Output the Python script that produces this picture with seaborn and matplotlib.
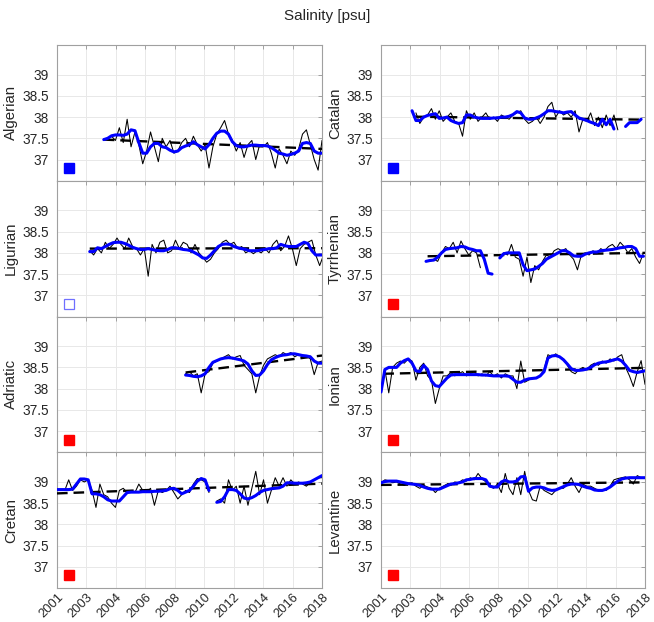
import numpy as np
import pandas as pd
import matplotlib
matplotlib.use("Agg")
import matplotlib.pyplot as plt
import seaborn as sns

STEP = 0.25  # years between consecutive values
XTICK_LABELS = ['2001', '2003', '2004', '2006', '2008', '2010', '2012', '2014', '2016', '2018']
YTICKS = [37, 37.5, 38, 38.5, 39]
nan = np.nan

# ---------------- Algerian ----------------
alg_thin_start = 2004.0
alg_thin = [37.48, 37.50, 37.55, 37.45, 37.75, 37.40, 37.95, 37.30, 37.65, 37.35,
            36.90, 37.20, 37.65, 37.30, 36.95, 37.50, 37.30, 37.45, 37.15, 37.20,
            37.40, 37.50, 37.30, 37.55, 37.35, 37.20, 37.35, 36.80, 37.30, 37.60,
            37.75, 37.92, 37.60, 37.45, 37.20, 37.40, 37.05, 37.35, 37.45, 37.00,
            37.35, 37.30, 37.40, 37.15, 36.80, 37.25, 37.10, 36.90, 37.20, 37.10,
            37.25, 37.60, 37.70, 37.35, 37.00, 36.75, 37.45]
alg_smooth_start = 2004.0
alg_smooth = [37.47, 37.50, 37.56, 37.58, 37.58, 37.57, 37.60, 37.70, 37.68, 37.40,
              37.15, 37.15, 37.30, 37.38, 37.38, 37.30, 37.28, 37.22, 37.18, 37.20,
              37.28, 37.32, 37.35, 37.42, 37.35, 37.30, 37.25, 37.35, 37.50, 37.62,
              37.67, 37.67, 37.60, 37.42, 37.33, 37.30, 37.30, 37.32, 37.34, 37.34,
              37.33, 37.33, 37.32, 37.28, 37.22, 37.15, 37.13, 37.10, 37.12, 37.15,
              37.20, 37.38, 37.40, 37.38, 37.20, 37.15, 37.15]
alg_trend_years = [2004.0, 2018.0]
alg_trend_vals = [37.47, 37.25]

# ---------------- Catalan ----------------
cat_thin_start = 2003.25
cat_thin = [38.10, 37.85, 38.00, 38.05, 38.20, 37.95, 38.15, 37.90, 38.00, 38.10,
            37.90, 37.85, 37.55, 38.15, 37.95, 38.10, 37.90, 38.00, 38.10, 37.95,
            38.00, 37.90, 38.05, 38.00, 37.95, 38.05, 38.10, 38.15, 37.95, 37.85,
            37.90, 38.00, 37.85, 38.00, 38.25, 38.35, 38.00, 38.15, 38.05, 38.10,
            38.00, 38.15, 37.65, 37.95, 37.90, 38.10, 37.80, 38.00, 37.75, 38.05,
            37.80, 38.05, 37.70]
cat_smooth_start = 2003.0
cat_smooth = [38.15, 37.92, 37.92, 38.00, 38.04, 38.06, 38.08, 37.97, 37.98, 38.00,
              37.92, 37.88, 37.85, 37.87, 38.05, 38.05, 38.00, 37.98, 37.97, 37.97,
              37.97, 37.98, 37.98, 38.00, 38.00, 38.02, 38.06, 38.13, 38.10, 37.98,
              37.95, 37.95, 37.98, 38.02, 38.08, 38.15, 38.15, 38.13, 38.12, 38.10,
              38.12, 38.13, 38.05, 37.98, 37.95, 37.92, 37.88, 37.85, 37.80, 37.95,
              37.82, 37.95, 37.72, nan, nan, 37.78, 37.87, 37.87, 37.87, 37.95]
cat_trend_years = [2003.1, 2017.85]
cat_trend_vals = [38.01, 37.94]

# ---------------- Ligurian ----------------
lig_thin_start = 2003.1
lig_thin = [38.05, 37.95, 38.10, 38.00, 38.25, 38.10, 38.20, 38.35, 38.20, 38.10,
            38.35, 38.15, 38.10, 37.95, 38.10, 37.45, 38.20, 38.00, 38.25, 38.30,
            38.00, 38.05, 38.30, 38.10, 38.25, 38.20, 38.00, 38.20, 38.00, 37.90,
            37.78, 37.85, 38.00, 38.10, 38.25, 38.30, 38.20, 38.25, 38.10, 38.15,
            38.00, 38.05, 37.98, 38.05, 38.00, 38.10, 38.00, 38.20, 38.30, 38.05,
            38.15, 38.40, 38.10, 37.70, 38.10, 38.20, 38.25, 38.30, 37.95, 37.70,
            37.95]
lig_smooth_start = 2003.1
lig_smooth = [38.03, 38.03, 38.12, 38.10, 38.15, 38.20, 38.24, 38.25, 38.25, 38.22,
              38.18, 38.13, 38.10, 38.08, 38.08, 38.10, 38.08, 38.06, 38.05, 38.05,
              38.08, 38.12, 38.12, 38.10, 38.08, 38.07, 38.05, 38.00, 37.95, 37.88,
              37.87, 37.95, 38.05, 38.15, 38.20, 38.21, 38.20, 38.15, 38.12, 38.10,
              38.08, 38.05, 38.05, 38.05, 38.07, 38.08, 38.10, 38.10, 38.12, 38.20,
              38.17, 38.15, 38.15, 38.15, 38.20, 38.25, 38.22, 38.05, 37.95, 37.95,
              37.95]
lig_trend_years = [2003.1, 2018.0]
lig_trend_vals = [38.10, 38.11]

# ---------------- Tyrrhenian ----------------
tyr_thin_start = 2004.15
tyr_thin = [37.80, 37.85, 37.80, 38.00, 38.15, 38.10, 38.25, 38.00, 38.28, 38.10,
            37.95, 38.05, 38.00, 37.65, nan, nan, nan, nan, 37.90, 38.00,
            37.95, 38.20, 37.90, 37.85, 37.45, 37.90, 37.30, 37.70, 37.60, 37.80,
            37.95, 37.90, 38.05, 38.10, 38.05, 38.10, 37.95, 37.85, 37.60, 37.95,
            38.00, 37.95, 38.05, 37.98, 38.10, 38.05, 38.15, 38.20, 38.10, 38.25,
            38.15, 38.00, 38.10, 37.90, 37.75, 38.00]
tyr_smooth_start = 2003.9
tyr_smooth = [37.80, 37.82, 37.83, 37.90, 38.00, 38.08, 38.10, 38.11, 38.12, 38.15,
              38.14, 38.10, 38.08, 38.05, 38.05, 37.85, 37.52, 37.50, nan, 37.88,
              37.98, 38.00, 38.00, 38.00, 38.00, 37.72, 37.58, 37.60, 37.62, 37.68,
              37.75, 37.85, 37.90, 37.95, 38.00, 38.05, 38.05, 38.00, 37.93, 37.92,
              37.92, 37.97, 38.00, 38.02, 38.02, 38.05, 38.06, 38.07, 38.08, 38.10,
              38.12, 38.13, 38.15, 38.15, 38.10, 37.92, 37.92]
tyr_trend_years = [2004.0, 2018.0]
tyr_trend_vals = [37.92, 38.00]

# ---------------- Adriatic ----------------
adr_thin_start = 2009.25
adr_thin = [38.35, 38.40, 38.30, 38.35, 37.90, 38.35, 38.40, 38.60, 38.65, 38.70,
            38.75, 38.80, 38.70, 38.75, 38.78, 38.55, 38.45, 38.35, 37.90, 38.30,
            38.55, 38.70, 38.75, 38.80, 38.75, 38.85, 38.80, 38.85, 38.75, 38.80,
            38.75, 38.78, 38.70, 38.33, 38.62, 38.65]
adr_smooth_start = 2009.25
adr_smooth = [38.32, 38.31, 38.29, 38.28, 38.30, 38.35, 38.50, 38.62, 38.66, 38.70,
              38.72, 38.73, 38.72, 38.70, 38.68, 38.65, 38.58, 38.42, 38.31, 38.32,
              38.42, 38.57, 38.68, 38.73, 38.77, 38.79, 38.80, 38.82, 38.82, 38.80,
              38.78, 38.77, 38.75, 38.65, 38.60, 38.60]
adr_trend_years = [2009.25, 2018.0]
adr_trend_vals = [38.38, 38.78]

# ---------------- Ionian ----------------
ion_thin_start = 2001.25
ion_thin = [38.45, 37.90, 38.50, 38.60, 38.65, 38.60, 38.70, 38.65, 38.20, 38.50,
            38.60, 38.30, 38.20, 37.65, 38.00, 38.30, 38.30, 38.38, 38.30, 38.35,
            38.40, 38.30, 38.35, 38.40, 38.30, 38.35, 38.30, 38.40, 38.30, 38.35,
            38.25, 38.35, 38.30, 38.30, 38.00, 38.65, 38.15, 38.20, 38.25, 38.25,
            38.30, 38.45, 38.80, 38.75, 38.82, 38.75, 38.70, 38.55, 38.40, 38.35,
            38.45, 38.50, 38.45, 38.55, 38.60, 38.55, 38.65, 38.60, 38.70, 38.65,
            38.75, 38.80, 38.50, 38.30, 38.05, 38.40, 38.66, 38.10]
ion_smooth_start = 2001.0
ion_smooth = [37.92, 38.45, 38.50, 38.50, 38.50, 38.60, 38.66, 38.70, 38.60, 38.42,
              38.40, 38.55, 38.45, 38.18, 38.07, 38.05, 38.15, 38.25, 38.32, 38.33,
              38.33, 38.33, 38.33, 38.33, 38.33, 38.33, 38.32, 38.32, 38.31, 38.30,
              38.30, 38.30, 38.30, 38.29, 38.22, 38.15, 38.15, 38.20, 38.23, 38.24,
              38.25, 38.30, 38.40, 38.72, 38.77, 38.78, 38.75, 38.68, 38.58, 38.47,
              38.43, 38.43, 38.44, 38.46, 38.50, 38.56, 38.60, 38.62, 38.63, 38.65,
              38.68, 38.70, 38.65, 38.55, 38.43, 38.40, 38.38, 38.40, 38.42]
ion_trend_years = [2001.15, 2018.0]
ion_trend_vals = [38.35, 38.49]

# ---------------- Cretan ----------------
cre_thin_start = 2001.0
cre_thin = [38.82, 38.82, 38.80, 39.05, 38.80, 38.90, 39.05, 39.00, 39.05, 38.80,
            38.40, 38.95, 38.70, 38.65, 38.50, 38.40, 38.80, 38.85, 38.75, 38.80,
            38.75, 38.95, 38.80, 38.75, 38.85, 38.45, 38.80, 38.75, 38.80, 38.90,
            38.75, 38.60, 38.70, 38.80, 38.75, 38.95, 39.08, 39.05, 39.00, 38.75,
            nan, 38.55, 38.60, 38.50, 39.05, 38.80, 38.90, 38.50, 38.90, 38.45,
            38.85, 39.25, 38.70, 39.05, 38.50, 38.80, 39.10, 38.90, 39.10, 38.90,
            39.05, 38.95, 39.00, 38.95, 38.90, 39.00, 39.05, 39.10, 39.10]
cre_smooth_start = 2001.0
cre_smooth = [38.82, 38.82, 38.82, 38.82, 38.83, 38.95, 39.07, 39.07, 39.05, 38.72,
              38.72, 38.70, 38.65, 38.58, 38.55, 38.55, 38.55, 38.65, 38.75, 38.76,
              38.76, 38.76, 38.77, 38.77, 38.77, 38.78, 38.78, 38.79, 38.80, 38.84,
              38.85, 38.80, 38.72, 38.76, 38.80, 38.90, 39.02, 39.08, 39.05, 38.80,
              nan, 38.52, 38.54, 38.65, 38.82, 38.82, 38.80, 38.72, 38.62, 38.60,
              38.63, 38.68, 38.75, 38.80, 38.82, 38.84, 38.85, 38.86, 38.90, 38.98,
              38.98, 38.97, 38.97, 38.97, 38.98, 39.00, 39.05, 39.10, 39.15]
cre_trend_years = [2001.0, 2018.0]
cre_trend_vals = [38.73, 38.96]

# ---------------- Levantine ----------------
lev_thin_start = 2001.0
lev_thin = [38.98, 39.05, 39.03, 38.98, 39.00, 38.95, 38.92, 38.97, 38.98, 38.90,
            38.85, 38.92, 38.88, 38.85, 38.75, 38.85, 38.90, 38.95, 38.92, 39.00,
            38.98, 39.05, 39.02, 39.10, 39.05, 39.20, 39.08, 39.00, 38.90, 38.85,
            38.95, 38.75, 39.20, 38.85, 38.70, 39.10, 38.70, 39.25, 38.80, 38.58,
            38.55, 38.90, 38.80, 38.75, 38.70, 38.80, 38.85, 38.85, 38.95, 39.10,
            38.90, 38.75, 38.95, 38.90, 38.90, 38.85, 38.80, 38.82, 38.80, 38.90,
            39.05, 39.08, 39.10, 39.12, 39.05, 38.95, 39.15, 39.10, 39.10]
lev_smooth_start = 2001.0
lev_smooth = [38.98, 39.01, 39.02, 39.02, 39.02, 39.00, 38.98, 38.96, 38.95, 38.94,
              38.92, 38.88, 38.85, 38.83, 38.83, 38.83, 38.87, 38.91, 38.95, 38.96,
              38.98, 39.00, 39.05, 39.06, 39.08, 39.08, 39.08, 39.05, 38.90, 38.88,
              38.88, 39.00, 39.04, 39.00, 39.00, 39.02, 39.12, 39.13, 38.78, 38.86,
              38.88, 38.88, 38.86, 38.82, 38.80, 38.81, 38.85, 38.89, 38.93, 38.95,
              38.95, 38.94, 38.90, 38.87, 38.85, 38.81, 38.80, 38.80, 38.83, 38.88,
              38.95, 39.02, 39.07, 39.09, 39.10, 39.10, 39.10, 39.10, 39.10]
lev_trend_years = [2001.0, 2018.0]
lev_trend_vals = [38.93, 38.99]

# panel layout: (name, column, row, thin, smooth, trend, flag marker style)
panels = [
    ("Algerian", 0, 0, (alg_thin_start, alg_thin), (alg_smooth_start, alg_smooth), (alg_trend_years, alg_trend_vals), "blue"),
    ("Ligurian", 0, 1, (lig_thin_start, lig_thin), (lig_smooth_start, lig_smooth), (lig_trend_years, lig_trend_vals), "open"),
    ("Adriatic", 0, 2, (adr_thin_start, adr_thin), (adr_smooth_start, adr_smooth), (adr_trend_years, adr_trend_vals), "red"),
    ("Cretan", 0, 3, (cre_thin_start, cre_thin), (cre_smooth_start, cre_smooth), (cre_trend_years, cre_trend_vals), "red"),
    ("Catalan", 1, 0, (cat_thin_start, cat_thin), (cat_smooth_start, cat_smooth), (cat_trend_years, cat_trend_vals), "blue"),
    ("Tyrrhenian", 1, 1, (tyr_thin_start, tyr_thin), (tyr_smooth_start, tyr_smooth), (tyr_trend_years, tyr_trend_vals), "red"),
    ("Ionian", 1, 2, (ion_thin_start, ion_thin), (ion_smooth_start, ion_smooth), (ion_trend_years, ion_trend_vals), "red"),
    ("Levantine", 1, 3, (lev_thin_start, lev_thin), (lev_smooth_start, lev_smooth), (lev_trend_years, lev_trend_vals), "red"),
]


def series_frame(start, values):
    vals = np.asarray(values, dtype=float)
    years = start + STEP * np.arange(len(vals))
    seg = np.cumsum(np.isnan(vals))
    return pd.DataFrame({"year": years, "val": vals, "seg": seg}).dropna()


sns.set_theme(style="white")
plt.rcParams["font.family"] = ["Liberation Sans", "DejaVu Sans"]

W, H = 654, 622
fig = plt.figure(figsize=(W / 100, H / 100), dpi=100)
fig.patch.set_facecolor("white")

col_left = [57, 381]
col_width = [265, 264]
top_px = 45
row_h = 135.75

EDGE = "#a0a0a0"
GRID = "#e8e8e8"
TXT = "#262626"

for name, col, row, thin, smooth, trend, flag in panels:
    left = col_left[col] / W
    bottom = 1 - (top_px + (row + 1) * row_h) / H
    ax = fig.add_axes([left, bottom, col_width[col] / W, row_h / H])

    dthin = series_frame(*thin)
    dsm = series_frame(*smooth)
    dtr = pd.DataFrame({"year": trend[0], "val": trend[1]})

    sns.lineplot(data=dthin, x="year", y="val", units="seg", estimator=None, sort=False,
                 color="black", linewidth=0.75, legend=False, ax=ax, zorder=3)
    sns.lineplot(data=dtr, x="year", y="val", estimator=None, sort=False,
                 color="black", linewidth=1.7, linestyle=(0, (4.5, 2.5)), legend=False, ax=ax, zorder=4)
    sns.lineplot(data=dsm, x="year", y="val", units="seg", estimator=None, sort=False,
                 color="#0000ff", linewidth=2.2, legend=False, ax=ax, zorder=5)

    if flag == "blue":
        ax.plot([2001.8], [36.8], marker="s", markersize=7.5, color="#0000ff", linestyle="none", zorder=6)
    elif flag == "red":
        ax.plot([2001.8], [36.8], marker="s", markersize=7.5, color="#ff0000", linestyle="none", zorder=6)
    else:
        ax.plot([2001.8], [36.8], marker="s", markersize=7.5, markerfacecolor="none",
                markeredgecolor="#6f6fff", markeredgewidth=0.9, linestyle="none", zorder=6)

    ax.set_xlim(2001, 2018)
    ax.set_ylim(36.5, 39.7)
    ax.set_xticks(np.linspace(2001, 2018, len(XTICK_LABELS)))
    ax.set_yticks(YTICKS)
    ax.set_yticklabels([f"{v:g}" for v in YTICKS])
    if row == 3:
        ax.set_xticklabels(XTICK_LABELS, rotation=45, ha="right", rotation_mode="anchor")
    else:
        ax.set_xticklabels([])
    ax.grid(True, color=GRID, linewidth=0.7)
    ax.set_axisbelow(True)
    for sp in ax.spines.values():
        sp.set_color(EDGE)
        sp.set_linewidth(0.8)
    ax.tick_params(axis="both", direction="in", length=3, width=0.7, color=EDGE,
                   top=True, right=True, labelcolor=TXT)
    ax.tick_params(axis="y", pad=6, labelsize=9.8)
    ax.tick_params(axis="x", pad=2, labelsize=9.3)
    ax.set_xlabel("")
    ax.set_ylabel(name, fontsize=10.8, color=TXT, labelpad=3)

fig.text(0.5, 1 - 16 / H, "Salinity [psu]", ha="center", va="center", fontsize=11, color=TXT)

fig.savefig("out.png", dpi=100, facecolor="white")
